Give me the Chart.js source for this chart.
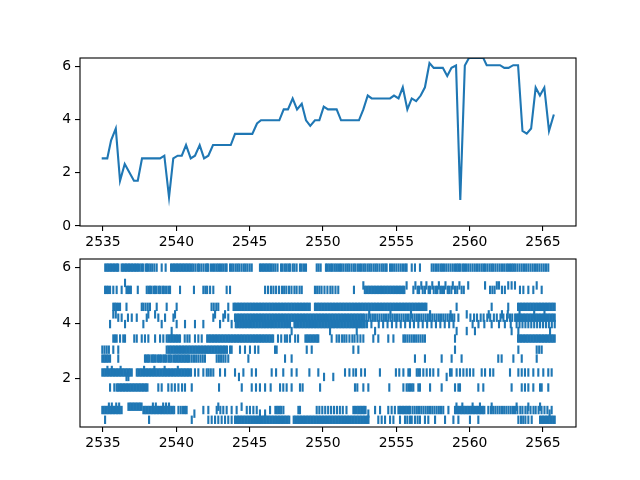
<!DOCTYPE html>
<html><head><meta charset="utf-8">
<script src="https://cdn.jsdelivr.net/npm/chart.js@4"></script>
<style>html,body{margin:0;padding:0;background:#fff;}canvas{position:absolute;left:0;top:0;}</style>
</head><body>
<canvas id="top" width="640" height="480"></canvas>
<canvas id="bot" width="640" height="480"></canvas>
<script>
// ---------- data ----------
const xTicks = [2535, 2540, 2545, 2550, 2555, 2560, 2565];
const topYTicks = [0, 2, 4, 6];
const botYTicks = [2, 4, 6];

const lineX = [2534.91,2535.29,2535.55,2535.87,2536.16,2536.48,2537.11,2537.37,2537.66,2538.89,2539.18,2539.5,2539.79,2540.09,2540.37,2540.66,2540.98,2541.27,2541.59,2541.89,2542.18,2542.5,2543.71,2544.0,2545.18,2545.5,2545.77,2547.02,2547.32,2547.61,2547.93,2548.23,2548.55,2548.84,2549.13,2549.45,2549.75,2550.05,2550.34,2550.93,2551.23,2552.45,2552.75,2553.05,2553.32,2554.57,2554.84,2555.15,2555.44,2555.75,2556.05,2556.35,2556.66,2556.95,2557.26,2557.55,2558.17,2558.47,2558.76,2559.07,2559.36,2559.67,2559.95,2560.93,2561.16,2562.07,2562.36,2562.65,2562.97,2563.3,2563.6,2563.89,2564.19,2564.5,2564.79,2565.09,2565.41,2565.74];
const lineY = [2.54,2.54,3.22,3.66,1.70,2.33,1.70,1.70,2.54,2.54,2.64,1.08,2.54,2.64,2.64,3.04,2.54,2.64,3.04,2.54,2.64,3.04,3.04,3.46,3.46,3.85,3.97,3.97,4.38,4.38,4.79,4.38,4.59,3.97,3.76,3.97,3.97,4.48,4.38,4.38,3.97,3.97,4.38,4.90,4.79,4.79,4.90,4.79,5.21,4.38,4.79,4.69,4.90,5.21,6.12,5.94,5.94,5.63,5.94,6.03,0.98,6.03,6.31,6.31,6.04,6.04,5.94,5.94,6.04,6.04,3.57,3.47,3.66,5.2,4.9,5.2,3.57,4.19];

// event rows of the lower panel (x positions), with their levels
const r600 = [2535.15,2535.25,2535.35,2535.45,2535.55,2535.65,2535.75,2535.85,2535.95,2536.04,2536.27,2536.37,2536.47,2536.57,2536.67,2536.77,2536.87,2536.97,2537.07,2537.18,2537.28,2537.38,2537.5,2537.62,2537.72,2537.9,2538,2538.1,2538.22,2538.35,2538.5,2538.66,2539,2539.27,2539.64,2539.74,2539.84,2539.94,2540.04,2540.14,2540.24,2540.34,2540.44,2540.54,2540.64,2540.74,2540.84,2540.94,2541.05,2541.16,2541.3,2541.45,2541.55,2541.7,2541.85,2542,2542.1,2542.18,2542.36,2542.5,2542.62,2542.75,2542.86,2542.98,2543.1,2543.22,2543.35,2543.43,2543.66,2543.78,2543.9,2544.05,2544.18,2544.3,2544.45,2544.6,2544.72,2544.85,2545,2545.14,2545.7,2545.8,2545.9,2546,2546.1,2546.2,2546.3,2546.4,2546.5,2546.62,2546.75,2546.9,2547.14,2547.25,2547.4,2547.52,2547.65,2547.75,2547.93,2548.05,2548.2,2548.43,2548.55,2548.7,2548.84,2549.57,2549.7,2549.84,2550.2,2550.3,2550.42,2550.55,2550.65,2550.78,2550.9,2551.03,2551.16,2551.27,2551.4,2551.55,2551.68,2551.8,2551.95,2552.1,2552.22,2552.38,2552.52,2552.64,2552.78,2552.9,2553.05,2553.18,2553.3,2553.45,2553.58,2553.7,2553.85,2554,2554.12,2554.25,2554.34,2554.57,2554.7,2554.85,2555,2555.15,2555.3,2555.45,2555.6,2555.7,2556.05,2556.27,2556.61,2557.41,2557.55,2557.7,2557.85,2558,2558.12,2558.25,2558.4,2558.55,2558.7,2558.85,2559,2559.12,2559.23,2559.34,2559.5,2559.62,2559.75,2559.9,2560.05,2560.2,2560.35,2560.5,2560.65,2560.8,2560.93,2561.05,2561.2,2561.35,2561.48,2561.6,2561.75,2561.9,2562.05,2562.2,2562.35,2562.5,2562.62,2562.75,2562.87,2562.98,2563.1,2563.25,2563.4,2563.55,2563.7,2563.85,2564,2564.15,2564.3,2564.45,2564.6,2564.75,2564.9,2565.05,2565.2,2565.36];
const r545 = [2536.5];
const r537 = [2552.75,2555.7,2556.3,2556.7,2557.05,2557.45,2557.9,2558.35,2558.85,2559.3,2559.9,2561.05,2561.85,2562,2562.63,2562.86,2563.09,2564.57];
const r520 = [2535.14,2535.24,2535.34,2535.48,2535.7,2535.93,2536.27,2536.6,2536.7,2536.8,2536.9,2537.37,2537.98,2538.1,2538.2,2538.3,2538.45,2538.55,2538.65,2538.8,2538.9,2539.05,2539.15,2539.3,2539.45,2539.57,2540.25,2541.2,2541.84,2541.98,2542.1,2542.3,2542.52,2543.43,2543.66,2546.05,2546.25,2546.45,2546.62,2546.8,2547,2547.2,2547.35,2547.5,2547.68,2547.85,2548.05,2548.2,2548.4,2548.55,2549.45,2549.6,2549.75,2549.9,2550.1,2550.3,2550.5,2550.65,2550.85,2551.04,2552.11,2552.85,2552.95,2553.05,2553.15,2553.25,2553.35,2553.45,2553.55,2553.65,2553.75,2553.85,2553.95,2554.05,2554.15,2554.25,2554.35,2554.45,2554.55,2554.65,2554.75,2554.85,2554.95,2555.05,2555.15,2555.25,2555.35,2555.45,2555.55,2556.16,2556.45,2556.55,2556.8,2556.95,2557.2,2557.3,2557.55,2557.7,2557.8,2558,2558.12,2558.25,2558.5,2558.6,2558.75,2559,2559.15,2559.45,2559.6,2561.39,2561.55,2561.7,2562.2,2562.4,2563.43,2563.66,2564,2564.34,2564.91];
const r459 = [2535.7,2535.8,2535.9,2536.02,2536.16,2536.6,2537.64,2537.75,2537.9,2538.05,2538.2,2538.66,2539.34,2540.02,2542.4,2542.55,2542.72,2542.86,2543.54,2543.9,2544,2544.1,2544.2,2544.3,2544.4,2544.5,2544.6,2544.7,2544.8,2544.9,2545,2545.1,2545.2,2545.3,2545.4,2545.5,2545.6,2545.7,2545.8,2545.9,2546,2546.1,2546.2,2546.3,2546.4,2546.5,2546.6,2546.7,2546.8,2546.9,2547,2547.1,2547.2,2547.3,2547.4,2547.5,2547.6,2547.7,2547.8,2547.9,2548,2548.1,2548.2,2548.3,2548.4,2548.5,2548.6,2548.7,2548.8,2548.9,2549,2549.1,2549.45,2549.55,2549.65,2549.75,2549.85,2549.95,2550.05,2550.15,2550.25,2550.35,2550.45,2550.55,2550.65,2550.75,2550.85,2550.95,2551.05,2551.15,2551.25,2551.35,2551.45,2551.55,2551.65,2551.75,2551.85,2551.95,2552.05,2552.15,2552.25,2552.35,2552.45,2552.55,2552.65,2552.75,2552.85,2552.95,2553.05,2553.15,2553.25,2553.35,2553.45,2553.55,2553.65,2553.75,2553.85,2553.95,2554.05,2554.15,2554.25,2554.35,2554.45,2554.55,2554.65,2554.75,2554.85,2554.95,2555.05,2555.15,2555.25,2555.35,2555.45,2555.55,2555.65,2555.75,2555.85,2555.95,2556.05,2556.15,2556.25,2556.35,2556.45,2556.55,2556.65,2556.75,2556.85,2556.95,2557.05,2559.11,2561.5,2562.63,2563.3,2563.4,2563.5,2563.6,2563.7,2563.8,2563.9,2564,2564.1,2564.2,2564.3,2564.4,2564.5,2564.6,2564.7,2564.8,2564.9,2565,2565.1,2565.2,2565.3,2565.4,2565.5,2565.6,2565.7,2565.8];
const r432 = [2535.7,2535.87,2538.09,2538.55,2539.91,2542.64,2543.32,2553.15,2554.6,2556,2557.3,2558.7,2559.8,2561.3,2562.2,2562.6,2563.4,2564.4,2565.1];
const r420 = [2536.04,2536.27,2536.7,2536.96,2537.3,2537.98,2538.77,2539.23,2539.8,2542.52,2543.2,2543.54,2544,2544.1,2544.2,2544.3,2544.4,2544.5,2544.6,2544.7,2544.8,2544.9,2545,2545.1,2545.2,2545.3,2545.4,2545.5,2545.6,2545.7,2545.8,2545.9,2546,2546.1,2546.2,2546.3,2546.4,2546.5,2546.6,2546.7,2546.8,2546.9,2547,2547.1,2547.2,2547.3,2547.4,2547.5,2547.6,2547.7,2547.8,2547.9,2548,2548.1,2548.2,2548.3,2548.4,2548.5,2548.6,2548.7,2548.8,2548.9,2549,2549.1,2549.2,2549.3,2549.4,2549.5,2549.6,2549.7,2549.8,2549.9,2550,2550.1,2550.2,2550.3,2550.4,2550.5,2550.6,2550.7,2550.8,2550.9,2551,2551.1,2551.2,2551.3,2551.4,2551.5,2551.6,2551.7,2551.8,2551.9,2552,2552.1,2552.2,2552.3,2552.4,2552.5,2552.6,2552.7,2552.8,2552.95,2553.1,2553.25,2553.4,2553.55,2553.7,2553.85,2554,2554.15,2554.3,2554.45,2554.6,2554.75,2554.9,2555.05,2555.2,2555.35,2555.5,2555.65,2555.8,2555.95,2556.1,2556.25,2556.4,2556.55,2556.7,2556.85,2557,2557.15,2557.3,2557.45,2557.6,2557.75,2557.9,2558.05,2558.2,2558.35,2558.5,2558.65,2558.8,2558.95,2559.23,2560.05,2560.3,2560.5,2560.75,2560.95,2561.2,2561.4,2561.65,2561.85,2562.1,2562.3,2562.55,2562.75,2562.9,2563.1,2563.2,2563.3,2563.4,2563.5,2563.6,2563.7,2563.8,2563.9,2564,2564.1,2564.2,2564.3,2564.4,2564.5,2564.6,2564.7,2564.8,2564.9,2565,2565.1,2565.2,2565.3,2565.4,2565.5,2565.6,2565.7,2565.8];
const r397 = [2535.48,2536.5,2537.75,2539,2540.02,2540.59,2541.27,2541.84,2542.98,2543.77,2544.05,2544.15,2544.25,2544.35,2544.45,2544.55,2544.65,2544.75,2544.85,2544.95,2545.05,2545.15,2545.25,2545.35,2545.45,2545.55,2545.65,2545.75,2545.85,2545.95,2546.05,2546.15,2546.25,2546.35,2546.45,2546.55,2546.65,2546.75,2546.85,2546.95,2547.05,2547.15,2547.25,2547.35,2547.45,2547.55,2547.65,2547.75,2548.05,2548.15,2548.25,2548.35,2548.45,2548.55,2548.65,2548.75,2548.85,2548.95,2549.05,2549.15,2549.25,2549.35,2549.45,2549.55,2549.65,2549.75,2549.85,2549.95,2550.05,2550.15,2550.25,2550.35,2550.45,2550.55,2550.65,2550.75,2550.85,2550.95,2551.05,2551.15,2551.25,2551.35,2551.45,2551.55,2551.65,2551.75,2551.85,2551.95,2552.05,2552.15,2552.25,2552.35,2552.45,2552.55,2552.65,2552.75,2552.85,2553,2553.3,2553.8,2554.1,2554.4,2554.7,2555,2555.3,2555.6,2555.93,2556.2,2556.5,2556.8,2557.1,2557.4,2557.7,2558,2558.3,2558.6,2558.9,2560.2,2560.6,2561,2561.5,2562,2562.4,2562.8,2563.2,2563.4,2563.6,2563.8,2564,2564.2,2564.4,2564.6,2564.8,2565,2565.2,2565.4,2565.6,2565.8];
const r372 = [2539.68,2547.86,2550.48,2552.3,2553.55,2559.11,2559.8,2560.36,2562.86,2563.32,2565.48];
const r345 = [2535.7,2535.82,2535.93,2536.16,2536.38,2536.5,2537.13,2537.3,2537.64,2537.86,2538.09,2538.55,2538.89,2539.11,2539.34,2539.45,2539.55,2539.65,2539.75,2539.85,2539.95,2540.05,2540.15,2540.25,2540.57,2540.75,2540.9,2541.27,2541.5,2541.73,2542.1,2542.2,2542.3,2542.4,2542.5,2542.6,2542.7,2542.8,2542.9,2543,2543.1,2543.2,2543.3,2543.4,2543.5,2543.6,2543.7,2543.8,2543.9,2544,2544.1,2544.2,2544.3,2544.4,2544.5,2544.6,2544.7,2544.8,2544.9,2545,2545.1,2545.2,2545.3,2545.4,2545.5,2545.6,2545.7,2545.8,2545.9,2546,2546.1,2546.2,2546.3,2546.4,2546.5,2546.6,2546.93,2547.15,2547.4,2547.55,2547.75,2548.1,2548.3,2548.8,2548.9,2549,2549.1,2549.2,2549.3,2549.4,2549.5,2549.6,2549.68,2550.59,2550.93,2551.1,2551.3,2551.45,2551.6,2551.8,2552,2552.15,2552.35,2552.55,2552.75,2553.43,2553.77,2554.45,2554.8,2555.48,2555.6,2555.75,2555.9,2556.05,2556.2,2556.35,2556.5,2556.65,2556.8,2556.95,2559,2563.3,2563.4,2563.5,2563.6,2563.7,2563.8,2563.9,2564,2564.1,2564.2,2564.3,2564.4,2564.5,2564.6,2564.7,2564.8,2564.9,2565,2565.1,2565.2,2565.3,2565.4,2565.5,2565.6,2565.7,2565.8];
const r305 = [2534.95,2535.1,2535.25,2535.4,2535.7,2536.04,2539.34,2539.45,2539.55,2539.65,2539.75,2539.85,2539.95,2540.05,2540.15,2540.25,2540.35,2540.45,2540.55,2540.65,2540.75,2540.85,2540.95,2541.05,2541.15,2541.25,2541.35,2541.45,2541.55,2541.65,2541.75,2541.85,2541.95,2542.05,2542.15,2542.25,2542.35,2542.45,2542.55,2542.65,2542.75,2542.85,2542.95,2543.05,2543.15,2543.25,2543.35,2543.45,2543.66,2543.77,2544.34,2544.68,2545.02,2545.36,2545.59,2546.73,2546.84,2548.89,2549.23,2552.07,2552.41,2559,2563.32,2564.57,2564.74,2564.91];
const r273 = [2534.95,2535.05,2535.15,2535.25,2535.35,2535.48,2536.04,2537.86,2537.96,2538.06,2538.16,2538.3,2538.4,2538.5,2538.6,2538.75,2538.85,2538.95,2539.1,2539.2,2539.3,2539.45,2539.55,2539.65,2539.79,2539.9,2540,2540.1,2540.2,2540.3,2540.4,2540.5,2540.6,2540.7,2540.8,2540.9,2541.05,2541.2,2541.35,2541.5,2541.65,2541.8,2541.95,2542.75,2542.9,2543.05,2543.2,2543.35,2543.54,2544.91,2547.41,2547.86,2556.27,2556.95,2558.09,2558.77,2559.45,2561.95,2562.18,2562.98,2563.55,2564.57];
const r232 = [2535.3,2535.6,2536.2,2537.8,2538.5,2539.2,2540.1];
const r223 = [2534.95,2535.05,2535.15,2535.25,2535.35,2535.45,2535.55,2535.65,2535.75,2535.85,2535.95,2536.05,2536.15,2536.25,2536.35,2536.45,2536.55,2536.65,2536.75,2536.85,2536.96,2537.3,2537.4,2537.5,2537.6,2537.7,2537.8,2537.9,2538,2538.1,2538.2,2538.3,2538.4,2538.5,2538.6,2538.7,2538.8,2538.9,2539,2539.1,2539.2,2539.3,2539.4,2539.5,2539.6,2539.7,2539.8,2539.9,2540,2540.1,2540.2,2540.3,2540.4,2540.5,2540.6,2540.7,2540.8,2540.9,2541,2541.27,2541.5,2541.84,2542.07,2542.2,2542.35,2542.52,2542.98,2543.32,2544,2544.57,2545.14,2545.43,2546.5,2546.8,2547.29,2547.86,2548.2,2549.07,2549.68,2551.5,2551.8,2552.07,2552.25,2552.6,2552.86,2553.88,2554.97,2555.2,2555.48,2555.82,2555.93,2556.39,2556.5,2556.61,2556.84,2557.07,2557.3,2557.52,2557.86,2558.66,2558.77,2559.11,2559.34,2559.57,2559.8,2560.02,2560.25,2560.82,2561.05,2561.39,2561.61,2562.75,2563.32,2563.55,2563.77,2564,2564.34,2564.68,2565.02,2565.36,2565.59];
const r207 = [2536.6,2536.73,2544.27,2550.07,2550.7,2558.43];
const r169 = [2535.48,2535.77,2535.93,2536.03,2536.13,2536.23,2536.33,2536.43,2536.53,2536.63,2536.73,2536.83,2536.93,2537.03,2537.13,2537.23,2537.33,2537.43,2537.53,2537.63,2537.73,2537.83,2537.93,2538.03,2538.77,2539,2539.45,2539.68,2539.9,2540.14,2540.39,2540.59,2541.05,2542.91,2544.46,2545.14,2545.43,2545.7,2546.05,2546.43,2547.07,2547.29,2547.52,2547.86,2548.43,2548.61,2549.8,2552.18,2552.34,2552.75,2553.09,2554.52,2555.48,2555.7,2555.82,2555.93,2556.05,2556.16,2556.5,2556.61,2557.3,2558.09,2559,2559.23,2559.34,2560.59,2560.93,2562.86,2563.55,2563.77,2564,2564.34,2564.8,2564.91,2565.36];
const r100 = [2535.4,2535.6,2535.9,2536.1,2536.73,2536.83,2536.93,2537.03,2537.13,2537.23,2537.33,2537.43,2537.53,2537.63,2538.4,2538.6,2539.1,2539.3,2539.5,2542.86,2544.45,2559.1,2559.5,2560.2,2560.7,2561.5,2563.2,2564,2564.8];
const r088 = [2534.95,2535.05,2535.15,2535.25,2535.35,2535.45,2535.55,2535.65,2535.75,2535.85,2535.95,2536.05,2536.15,2536.27,2537.75,2537.85,2537.95,2538.05,2538.15,2538.25,2538.35,2538.45,2538.55,2538.65,2538.75,2538.85,2538.95,2539.05,2539.15,2539.25,2539.35,2539.45,2539.55,2539.65,2539.75,2539.85,2540.14,2540.3,2540.45,2540.59,2540.7,2541.84,2542.18,2542.75,2543,2543.2,2543.43,2543.77,2544.11,2544.8,2545.02,2545.25,2545.48,2546.39,2546.75,2546.85,2546.95,2547.05,2547.15,2547.3,2548.32,2548.43,2549.57,2549.75,2549.95,2550.15,2550.35,2550.55,2550.75,2550.95,2551.15,2551.35,2551.6,2552.07,2552.18,2552.3,2552.4,2552.5,2552.6,2552.7,2552.8,2552.9,2553.55,2553.89,2554.45,2554.68,2554.9,2555.14,2555.25,2555.35,2555.45,2555.55,2555.65,2555.75,2555.85,2555.93,2556.1,2556.25,2556.4,2556.55,2556.7,2556.85,2557,2557.15,2557.3,2557.45,2557.6,2557.75,2557.9,2558.05,2558.2,2558.55,2559,2559.1,2559.2,2559.3,2559.4,2559.5,2559.6,2559.7,2559.8,2559.9,2560,2560.1,2560.2,2560.3,2560.4,2560.5,2560.6,2560.7,2560.8,2560.9,2561,2561.27,2561.45,2561.6,2561.75,2561.9,2562.05,2562.2,2562.35,2562.5,2562.65,2562.8,2562.95,2563.09,2563.25,2563.45,2563.6,2563.8,2563.95,2564.15,2564.35,2564.5,2564.7,2564.9,2565.1,2565.3,2565.59];
const r075 = [2541.23,2545.7,2546.05,2553.09,2565.45];
const r053 = [2535.14,2538.14,2541.05,2542.18,2542.41,2542.64,2542.86,2543.09,2543.32,2543.54,2543.77,2544,2544.1,2544.2,2544.3,2544.4,2544.5,2544.6,2544.7,2544.8,2544.9,2545,2545.1,2545.2,2545.3,2545.4,2545.5,2545.6,2545.7,2545.8,2545.9,2546,2546.1,2546.2,2546.3,2546.4,2546.5,2546.6,2546.7,2546.8,2546.9,2547,2547.1,2547.2,2547.3,2547.4,2547.5,2547.6,2547.7,2548,2548.1,2548.2,2548.3,2548.4,2548.5,2548.6,2548.7,2548.8,2548.9,2549,2549.1,2549.2,2549.3,2549.4,2549.5,2549.6,2549.7,2549.8,2549.9,2550,2550.1,2550.2,2550.3,2550.4,2550.5,2550.6,2550.7,2550.8,2550.9,2551,2551.1,2551.2,2551.3,2551.4,2551.5,2551.6,2551.7,2551.8,2551.9,2552,2552.1,2552.2,2552.3,2552.4,2552.5,2552.6,2552.7,2552.8,2552.9,2553,2553.1,2553.77,2554,2554.23,2554.57,2554.8,2555.25,2555.59,2555.75,2555.93,2556.05,2556.27,2556.45,2556.61,2556.95,2557.18,2557.64,2558.32,2558.89,2559.23,2560.02,2560.59,2563.32,2563.5,2563.65,2563.8,2564,2564.23,2564.8,2564.9,2565,2565.1,2565.2,2565.3,2565.4,2565.5,2565.6,2565.7,2565.8];

const rowData   = [r600, r545, r537, r520, r459, r432, r420, r397, r372, r345, r305, r273, r232, r223, r207, r169, r100, r088, r075, r053];
const rowLevels = [6.0,  5.45, 5.36, 5.2,  4.59, 4.32, 4.2,  3.97, 3.72, 3.45, 3.05, 2.73, 2.32, 2.23, 2.07, 1.69, 1.0,  0.88, 0.75, 0.53];

// ---------- drawing ----------
const BLUE = '#1f77b4';
const FONT = {family: 'DejaVu Sans', size: 13.9};
const X_MIN = 2533.43, X_MAX = 2567.25;

const frame = {
  id: 'frame',
  afterDraw(chart) {
    const {ctx, chartArea: a} = chart;
    ctx.save();
    ctx.strokeStyle = '#000';
    ctx.lineWidth = 1.1;
    ctx.strokeRect(a.left, a.top, a.right - a.left, a.bottom - a.top);
    ctx.restore();
  }
};

function xAxis() {
  return {
    type: 'linear', min: X_MIN, max: X_MAX,
    afterBuildTicks: s => { s.ticks = xTicks.map(v => ({value: v})); },
    afterFit: s => { s.height = 24; },
    grid: {display: true, drawOnChartArea: false, drawTicks: true, tickLength: 5, color: '#000', lineWidth: 1.1},
    border: {display: false},
    ticks: {color: '#000', font: FONT, padding: 3, maxRotation: 0, autoSkip: false, callback: v => String(v)}
  };
}
function yAxis(min, max, tks) {
  return {
    type: 'linear', min, max,
    afterBuildTicks: s => { s.ticks = tks.map(v => ({value: v})); },
    afterFit: s => { s.width = 40; },
    grid: {display: true, drawOnChartArea: false, drawTicks: true, tickLength: 5, color: '#000', lineWidth: 1.1},
    border: {display: false},
    ticks: {color: '#000', font: FONT, padding: 4, autoSkip: false, callback: v => String(v)}
  };
}

new Chart(document.getElementById('top'), {
  type: 'line',
  data: {datasets: [{
    data: lineX.map((x, i) => ({x, y: lineY[i]})),
    borderColor: BLUE, borderWidth: 2.1, pointRadius: 0, tension: 0, fill: false, clip: 0
  }]},
  options: {
    responsive: false, animation: false, events: [],
    layout: {padding: {left: 40, right: 64, top: 58, bottom: 230}},
    scales: {x: xAxis(), y: yAxis(0, 6.31, topYTicks)},
    plugins: {legend: {display: false}, tooltip: {enabled: false}}
  },
  plugins: [frame]
});

const events = [];
rowData.forEach((xs, k) => xs.forEach(x => events.push({x, y: rowLevels[k]})));

new Chart(document.getElementById('bot'), {
  type: 'scatter',
  data: {datasets: [{
    data: events,
    pointStyle: 'line', pointRotation: 90, pointRadius: 4.2,
    pointBorderWidth: 2.1, pointBorderColor: BLUE, pointBackgroundColor: BLUE,
    showLine: false
  }]},
  options: {
    responsive: false, animation: false, events: [],
    layout: {padding: {left: 40, right: 64, top: 259, bottom: 29}},
    scales: {x: xAxis(), y: yAxis(0.27, 6.31, botYTicks)},
    plugins: {legend: {display: false}, tooltip: {enabled: false}}
  },
  plugins: [frame]
});
</script>
</body></html>
